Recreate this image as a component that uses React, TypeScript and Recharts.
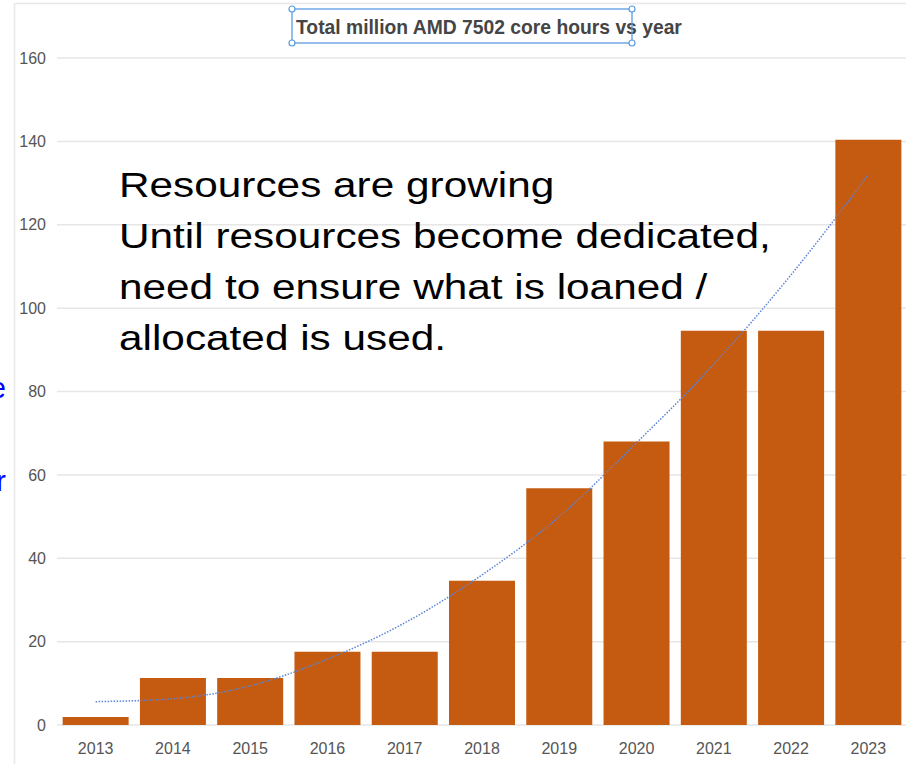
import React from 'react';
import { ComposedChart, Bar, Line, XAxis, YAxis, CartesianGrid } from 'recharts';

const years = ['2013', '2014', '2015', '2016', '2017', '2018', '2019', '2020', '2021', '2022', '2023'];
const coreHours = [1.9, 11.3, 11.3, 17.6, 17.6, 34.6, 56.8, 68, 94.6, 94.6, 140.4];
const trendValues = [5.6, 6.3, 9.4, 15.8, 24.5, 36, 50, 67.7, 86.5, 108, 132];
const yTicks = [0, 20, 40, 60, 80, 100, 120, 140, 160];
const titleText = 'Total million AMD 7502 core hours vs year';
const noteLines = [
  'Resources are growing',
  'Until resources become dedicated,',
  'need to ensure what is loaned /',
  'allocated is used.',
];

const data = years.map((year, i) => ({ year, hours: coreHours[i], trend: trendValues[i] }));

const FONT = '"Liberation Sans", Arial, Helvetica, sans-serif';

export default function App() {
  return (
    <div
      style={{
        position: 'absolute',
        left: 0,
        top: 0,
        width: 906,
        height: 764,
        overflow: 'hidden',
        background: '#ffffff',
        fontFamily: FONT,
      }}
    >
      <ComposedChart
        width={907}
        height={764}
        data={data}
        margin={{ top: 58, right: 0, left: 0, bottom: 9 }}
        barCategoryGap="7.3%"
      >
        <CartesianGrid vertical={false} stroke="#e6e6e6" strokeWidth={1.5} />
        <XAxis
          dataKey="year"
          axisLine={false}
          tickLine={false}
          height={30}
          tickMargin={12}
          interval={0}
          tick={{ fontSize: 16, fill: '#555555', fontFamily: FONT }}
        />
        <YAxis
          width={57}
          domain={[0, 160]}
          ticks={yTicks}
          axisLine={false}
          tickLine={false}
          tickMargin={5}
          interval={0}
          tick={{ fontSize: 16, fill: '#555555', fontFamily: FONT }}
        />
        <Bar dataKey="hours" fill="#C55A11" isAnimationActive={false} />
        <Line
          dataKey="trend"
          type="monotone"
          stroke="#5b84d6"
          strokeWidth={1.5}
          strokeDasharray="1.5 1.5"
          dot={false}
          activeDot={false}
          isAnimationActive={false}
        />
      </ComposedChart>
      <svg
        width={906}
        height={764}
        style={{ position: 'absolute', left: 0, top: 0, pointerEvents: 'none' }}
      >
        <line x1={14.5} y1={3.5} x2={14.5} y2={764} stroke="#e8e8e8" strokeWidth={1.5} />
        <line x1={14.5} y1={3.5} x2={906} y2={3.5} stroke="#e8e8e8" strokeWidth={1.5} />
        <g transform="translate(296,34) scale(0.965,1)">
          <text x={0} y={0} fontSize={20} fontWeight="bold" fill="#454545" fontFamily={FONT}>
            {titleText}
          </text>
        </g>
        <rect x={292} y={9} width={340} height={34} fill="none" stroke="#5a9be0" strokeWidth={1.3} />
        {[[292, 9], [632, 9], [292, 43], [632, 43]].map(([cx, cy], i) => (
          <circle key={i} cx={cx} cy={cy} r={3} fill="#ffffff" stroke="#5a9be0" strokeWidth={1.2} />
        ))}
        {noteLines.map((line, i) => (
          <g key={i} transform={`translate(119,${197 + i * 51}) scale(1.21,1)`}>
            <text x={0} y={0} fontSize={35} fill="#000000" fontFamily={FONT}>
              {line}
            </text>
          </g>
        ))}
        <text x={6} y={398} fontSize={29} fill="#0000ff" textAnchor="end" fontFamily={FONT}>
          e
        </text>
        <text x={6} y={491} fontSize={29} fill="#0000ff" textAnchor="end" fontFamily={FONT}>
          r
        </text>
      </svg>
    </div>
  );
}
